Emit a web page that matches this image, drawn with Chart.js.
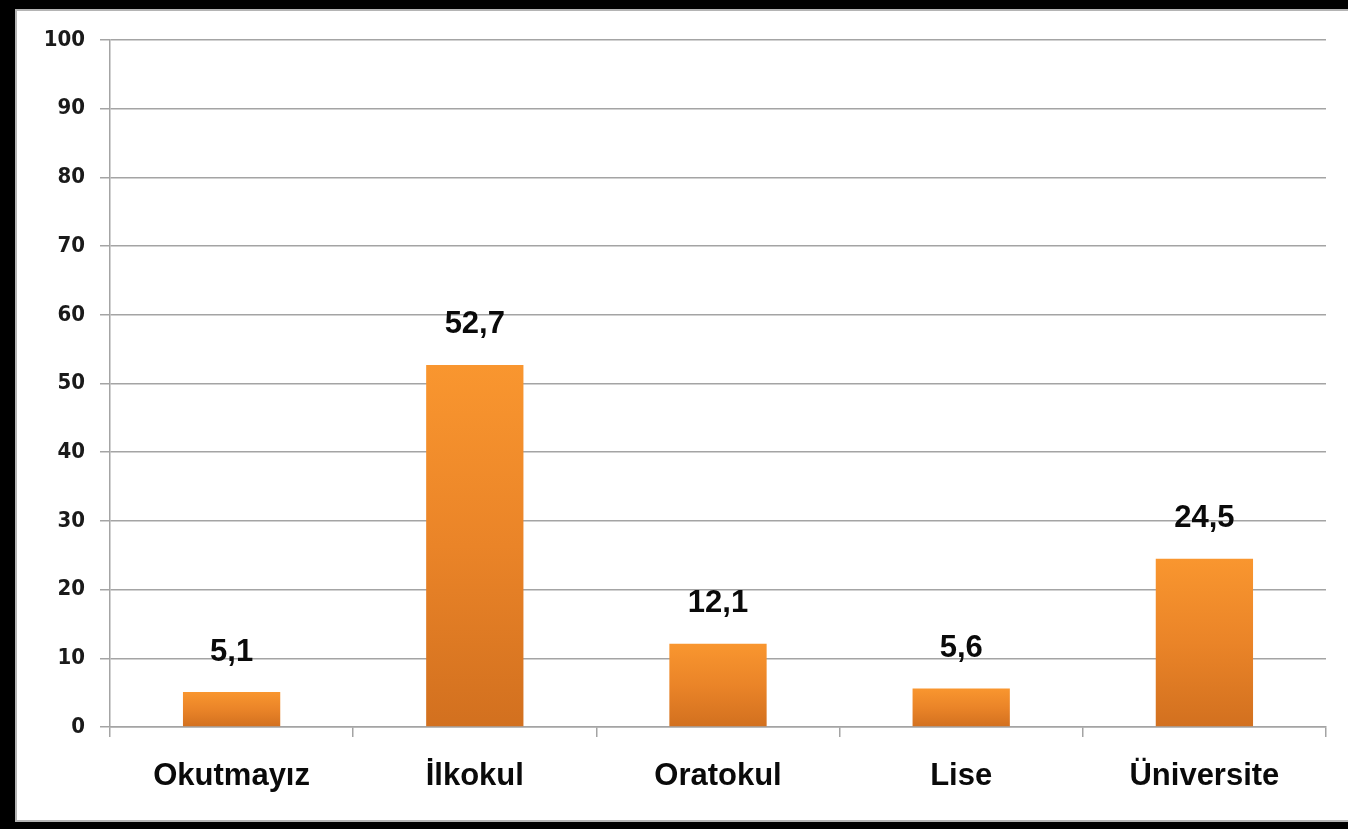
<!DOCTYPE html>
<html>
<head>
<meta charset="utf-8">
<script src="https://cdn.jsdelivr.net/npm/chart.js@4.4.0/dist/chart.umd.min.js"></script>
<style>
  html, body { margin: 0; padding: 0; }
  body { width: 1348px; height: 829px; position: relative; overflow: hidden; background: #000; }
  #frame {
    position: absolute; left: 15px; top: 9px; width: 1333px; height: 813px;
    background: #fff; border-left: 2px solid #b4b4b4; border-top: 2px solid #b4b4b4;
    border-bottom: 2px solid #b4b4b4; box-sizing: border-box;
  }
  #wrap { position: absolute; left: 0; top: 0; width: 1348px; height: 829px; }
</style>
</head>
<body>
<div id="frame"></div>
<div id="wrap"><canvas id="eduChart" width="1348" height="829"></canvas></div>
<script>
const categories = ["Okutmayız", "İlkokul", "Oratokul", "Lise", "Üniversite"];
const percentages = [5.1, 52.7, 12.1, 5.6, 24.5];
const yTicks = [0, 10, 20, 30, 40, 50, 60, 70, 80, 90, 100];

const GRID = "#a4a4a4";

function barGradient(context) {
  const chart = context.chart;
  const { ctx, chartArea, scales } = chart;
  if (!chartArea || context.type !== "data") return "#f08a2a";
  const top = scales.y.getPixelForValue(context.raw);
  const bottom = scales.y.getPixelForValue(0);
  const g = ctx.createLinearGradient(0, top, 0, bottom);
  g.addColorStop(0, "#f9962f");
  g.addColorStop(0.5, "#ea8428");
  g.addColorStop(1, "#d2701f");
  return g;
}

const valueLabels = {
  id: "valueLabels",
  afterDatasetsDraw(chart) {
    const { ctx } = chart;
    const meta = chart.getDatasetMeta(0);
    ctx.save();
    ctx.font = "bold 31px 'Liberation Sans', Arial, sans-serif";
    ctx.fillStyle = "#0a0a0a";
    ctx.textAlign = "center";
    ctx.textBaseline = "middle";
    meta.data.forEach((bar, i) => {
      const txt = percentages[i].toFixed(1).replace(".", ",");
      ctx.fillText(txt, bar.x, bar.y - 40);
    });
    ctx.restore();
  }
};

document.addEventListener("DOMContentLoaded", () => {
  const ctx = document.getElementById("eduChart").getContext("2d");
  new Chart(ctx, {
    type: "bar",
    data: {
      labels: categories,
      datasets: [{
        data: percentages,
        backgroundColor: barGradient,
        borderWidth: 0,
        categoryPercentage: 1,
        barPercentage: 0.4
      }]
    },
    options: {
      responsive: false,
      animation: false,
      layout: { padding: { left: 0, top: 40, right: 22, bottom: 0 } },
      plugins: {
        legend: { display: false },
        tooltip: { enabled: false }
      },
      scales: {
        x: {
          afterFit(scale) { scale.height = 102; },
          grid: {
            offset: true,
            drawOnChartArea: false,
            drawTicks: true,
            tickLength: 10,
            color: GRID,
            lineWidth: 1.5
          },
          border: { display: true, color: GRID, width: 1.5 },
          ticks: {
            color: "#0a0a0a",
            padding: 21,
            font: { family: "'Liberation Sans', Arial, sans-serif", size: 31, weight: "bold" }
          }
        },
        y: {
          min: 0,
          max: 100,
          afterFit(scale) { scale.width = 110; },
          afterBuildTicks(scale) { scale.ticks = yTicks.map(v => ({ value: v })); },
          grid: {
            drawTicks: true,
            tickLength: 10,
            color: GRID,
            lineWidth: 1.5
          },
          border: { display: true, color: GRID, width: 1.5 },
          ticks: {
            color: "#1a1a1a",
            padding: 15,
            font: { family: "'DejaVu Sans Condensed', 'DejaVu Sans', sans-serif", size: 22, weight: "bold" }
          }
        }
      }
    },
    plugins: [valueLabels]
  });
});
</script>
</body>
</html>
